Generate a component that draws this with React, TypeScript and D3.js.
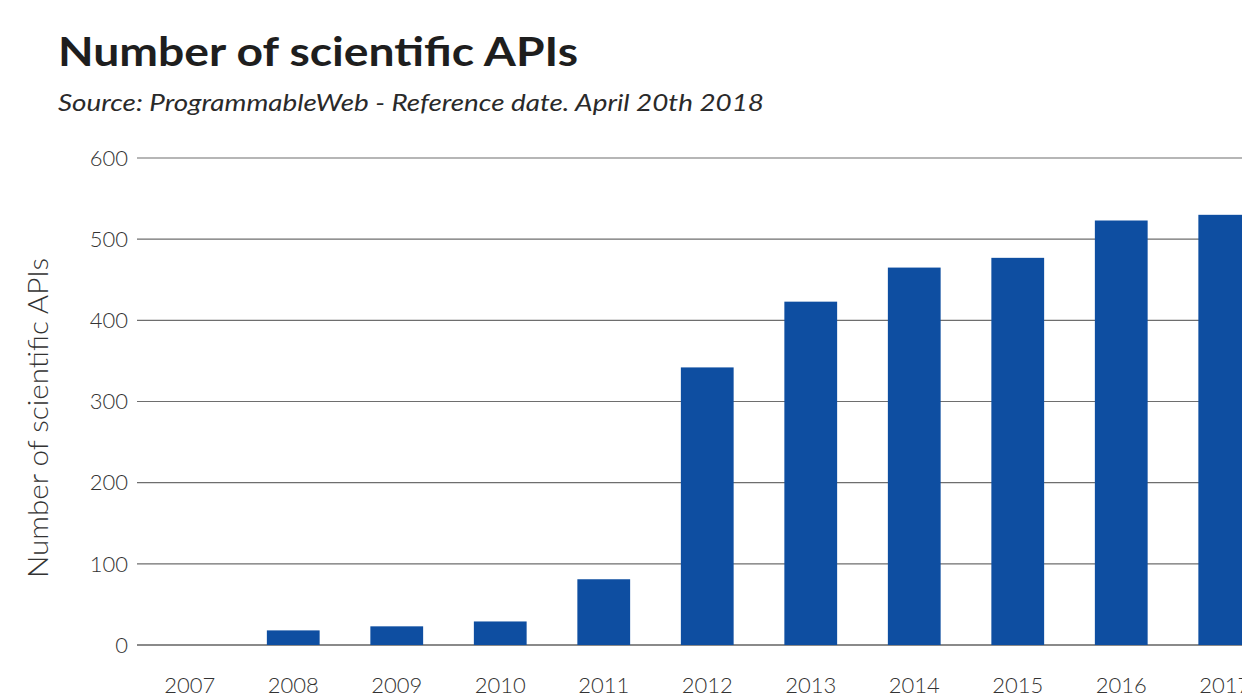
import React from "react";
import * as d3 from "d3";

const years = ["2007", "2008", "2009", "2010", "2011", "2012", "2013", "2014", "2015", "2016", "2017"];
const apiCounts = [0, 18, 23, 29, 81, 342, 423, 465, 477, 523, 530];
const yTicks = [0, 100, 200, 300, 400, 500, 600];

const W = 1242;
const H = 694;
const FONT = "Lato, 'Open Sans', sans-serif";

export default function App() {
  const x = d3
    .scaleBand<string>()
    .domain(years)
    .range([138, 138 + 11 * 103.5])
    .paddingInner(0.49)
    .paddingOuter(0.245);
  const y = d3.scaleLinear().domain([0, 600]).range([645, 158]);

  return (
    <svg
      width={W}
      height={H}
      style={{ position: "fixed", left: 0, top: 0, background: "#fff" }}
      fontFamily={FONT}
    >
      <text
        x={58}
        y={66}
        fontSize={41}
        fontWeight={700}
        fill="#1e1e1e"
        textLength={520}
        lengthAdjust="spacingAndGlyphs"
      >
        Number of scientific APIs
      </text>
      <text
        x={58}
        y={111}
        fontSize={24}
        fontStyle="italic"
        fontWeight={400}
        fill="#2a2a2a"
        textLength={706}
        lengthAdjust="spacingAndGlyphs"
      >
        Source: ProgrammableWeb - Reference date. April 20th 2018
      </text>

      {yTicks.map((t) => (
        <g key={t}>
          <line
            x1={137}
            x2={W}
            y1={y(t)}
            y2={y(t)}
            stroke={t === 0 ? "#8a8a8a" : "#6e6e6e"}
            strokeWidth={t === 0 ? 2 : 1.2}
          />
          <text
            x={128}
            y={y(t)}
            dy="0.35em"
            textAnchor="end"
            fontSize={22}
            fontWeight={300}
            fill="#333"
          >
            {t}
          </text>
        </g>
      ))}

      <text
        transform={`translate(48, ${418}) rotate(-90)`}
        textAnchor="middle"
        fontSize={28}
        fontWeight={300}
        fill="#333"
        textLength={320}
        lengthAdjust="spacingAndGlyphs"
      >
        Number of scientific APIs
      </text>

      {years.map((yr, i) => (
        <rect
          key={yr}
          x={x(yr)}
          y={y(apiCounts[i])}
          width={x.bandwidth()}
          height={y(0) - y(apiCounts[i])}
          fill="#0e4ea1"
        />
      ))}

      {years.map((yr) => (
        <text
          key={yr}
          x={(x(yr) as number) + x.bandwidth() / 2}
          y={693}
          textAnchor="middle"
          fontSize={22}
          fontWeight={300}
          fill="#333"
        >
          {yr}
        </text>
      ))}
    </svg>
  );
}
